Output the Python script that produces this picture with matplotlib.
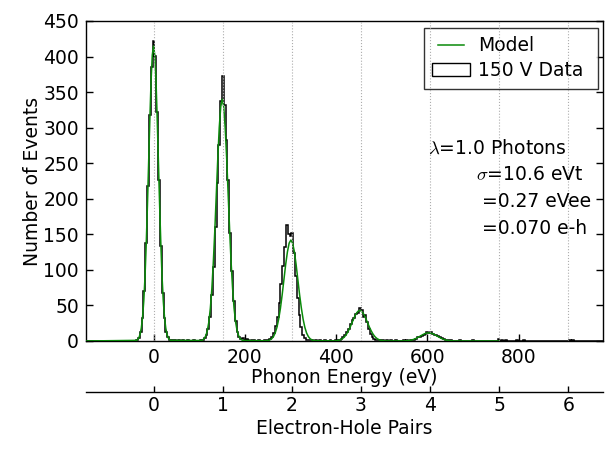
import numpy as np
import matplotlib
matplotlib.use("Agg")
import matplotlib.pyplot as plt
from matplotlib.lines import Line2D
from matplotlib.patches import Patch

plt.rcParams["font.family"] = ["DejaVu Sans"]
plt.rcParams["mathtext.fontset"] = "cm"

# ---- axes ranges and ticks ----
EV_PER_PAIR = 151.5
x_range = (-148, 985)
y_range = (0, 450)
energy_ticks = [0, 200, 400, 600, 800]
pair_ticks = [0, 1, 2, 3, 4, 5, 6]
count_ticks = list(range(0, 451, 50))

# ---- measured spectrum (4 eV bins) ----
bin_width = 4
bin_low, bin_high = -150, 986

# first bin centre of each populated stretch, followed by its counts
peak_starts = [-40, 100, 244, 400, 556]
peak0_counts = [0, 1, 4, 12, 32, 70, 138, 218, 318, 386, 422, 401, 322,
                226, 134, 68, 33, 12, 6, 2, 1, 2, 1, 0, 1, 0]
peak1_counts = [0, 1, 2, 4, 8, 17, 34, 64, 104, 160, 222, 276, 338, 372,
                332, 282, 226, 152, 98, 56, 28, 12, 5, 3, 4, 1, 3, 1, 0, 1]
peak2_counts = [1, 1, 2, 3, 6, 11, 21, 34, 54, 80, 106, 132, 163, 150,
                147, 152, 124, 92, 60, 36, 20, 9, 4, 2, 1, 2, 1, 0, 1]
peak3_counts = [1, 1, 2, 3, 5, 8, 12, 17, 24, 29, 33, 38, 40, 46, 43, 34,
                36, 27, 17, 10, 6, 3, 2, 1, 2, 1, 2, 0, 1]
peak4_counts = [1, 0, 1, 2, 2, 3, 5, 5, 7, 9, 10, 12, 11, 12, 10, 9, 8,
                7, 5, 4, 3, 2, 2, 1, 1]
peak_counts = [peak0_counts, peak1_counts, peak2_counts, peak3_counts,
               peak4_counts]

# isolated events between the peaks
stray_ev = [64, 76, 88, 220, 232, 364, 376, 388, 520, 532, 548, 672, 700,
            756, 764, 772, 796, 812, 912, 920]
stray_counts = [1, 1, 1, 1, 1, 1, 1, 1, 1, 1, 1, 2, 2, 3, 2, 1, 2, 1, 2, 1]

# ---- model curve (Poisson-smeared peaks) ----
model0_ev = [-37.5, -34.8, -32.1, -29.4, -26.8, -24.1, -21.4, -18.7, -16.1,
             -13.4, -10.7, -8.0, -5.4, -2.7, 0.0, 2.7, 5.4, 8.0, 10.7, 13.4,
             16.1, 18.7, 21.4, 24.1, 26.8, 29.4, 32.1, 34.8, 37.5]
model0_n = [0.9, 2.1, 4.6, 9.5, 18.2, 33.0, 56.1, 89.8, 134.8, 190.0, 251.7,
            313.2, 366.2, 402.2, 415.0, 402.2, 366.2, 313.2, 251.7, 190.0,
            134.8, 89.8, 56.1, 33.0, 18.2, 9.5, 4.6, 2.1, 0.9]
model1_ev = [105.0, 108.3, 111.5, 114.8, 118.0, 121.3, 124.5, 127.8, 131.0,
             134.3, 137.5, 140.8, 144.0, 147.3, 150.5, 153.8, 157.0, 160.3,
             163.5, 166.8, 170.0, 173.3, 176.5, 179.8, 183.0, 186.3, 189.5,
             192.8, 196.0]
model1_n = [0.7, 1.7, 3.8, 7.8, 14.9, 27.1, 46.0, 73.5, 110.4, 155.7, 206.2,
            256.6, 300.1, 329.5, 340.0, 329.5, 300.1, 256.6, 206.2, 155.7,
            110.4, 73.5, 46.0, 27.1, 14.9, 7.8, 3.8, 1.7, 0.7]
model2_ev = [247.5, 251.3, 255.1, 258.9, 262.8, 266.6, 270.4, 274.2, 278.1,
             281.9, 285.7, 289.5, 293.4, 297.2, 301.0, 304.8, 308.7, 312.5,
             316.3, 320.1, 324.0, 327.8, 331.6, 335.4, 339.3, 343.1, 346.9,
             350.7, 354.6]
model2_n = [0.3, 0.7, 1.6, 3.2, 6.2, 11.3, 19.2, 30.7, 46.1, 65.0, 86.1,
            107.2, 125.3, 137.6, 142.0, 137.6, 125.3, 107.2, 86.1, 65.0,
            46.1, 30.7, 19.2, 11.3, 6.2, 3.2, 1.6, 0.7, 0.3]
model3_ev = [393.2, 397.4, 401.6, 405.8, 410.0, 414.2, 418.4, 422.6, 426.8,
             431.0, 435.2, 439.4, 443.6, 447.8, 452.0, 456.2, 460.4, 464.6,
             468.8, 473.0, 477.2, 481.4, 485.6, 489.8, 494.0, 498.2, 502.4,
             506.6, 510.8]
model3_n = [0.1, 0.2, 0.5, 1.0, 1.9, 3.4, 5.8, 9.3, 14.0, 19.7, 26.1, 32.5,
            37.9, 41.7, 43.0, 41.7, 37.9, 32.5, 26.1, 19.7, 14.0, 9.3, 5.8,
            3.4, 1.9, 1.0, 0.5, 0.2, 0.1]
model4_ev = [539.0, 543.5, 548.1, 552.7, 557.3, 561.8, 566.4, 571.0, 575.6,
             580.1, 584.7, 589.3, 593.9, 598.4, 603.0, 607.6, 612.2, 616.7,
             621.3, 625.9, 630.5, 635.0, 639.6, 644.2, 648.8, 653.3, 657.9,
             662.5, 667.1]
model4_n = [0.03, 0.06, 0.13, 0.26, 0.5, 0.92, 1.56, 2.49, 3.73, 5.26, 6.97,
            8.68, 10.15, 11.15, 11.5, 11.15, 10.15, 8.68, 6.97, 5.26, 3.73,
            2.49, 1.56, 0.92, 0.5, 0.26, 0.13, 0.06, 0.03]
model_ends = [-150.0, 757.0]

# ---- assemble histogram ----
edges = np.arange(bin_low, bin_high + bin_width / 2, bin_width)
centres = edges[:-1] + bin_width / 2
counts = np.zeros(len(centres))
for start, vals in zip(peak_starts, peak_counts):
    i0 = int(round((start - centres[0]) / bin_width))
    counts[i0:i0 + len(vals)] = vals
for e, n in zip(stray_ev, stray_counts):
    counts[int(round((e - centres[0]) / bin_width))] = n

model_ev = ([model_ends[0]] + model0_ev + model1_ev + model2_ev + model3_ev
            + model4_ev + [model_ends[1]])
model_n = [0.0] + model0_n + model1_n + model2_n + model3_n + model4_n + [0.0]

# ---- figure ----
W, H = 609, 449
fig = plt.figure(figsize=(W / 100, H / 100), dpi=100)
ax = fig.add_axes([86 / W, 1 - 341 / H, (603 - 86) / W, (341 - 21) / H])

fs = 13.5
green = "#0a8a0a"
ax.hist(centres, bins=edges, weights=counts, histtype="step", color="black",
        linewidth=1.1, zorder=2)
ax.plot(model_ev, model_n, color=green, linewidth=1.1, zorder=3)

ax.set_xlim(*x_range)
ax.set_ylim(*y_range)
ax.set_xticks(energy_ticks)
ax.set_yticks(count_ticks)
ax.tick_params(direction="in", top=True, right=True, length=5, width=1,
               labelsize=fs, pad=5)
ax.set_xlabel("Phonon Energy (eV)", fontsize=fs, labelpad=1)
ax.set_ylabel("Number of Events", fontsize=fs, labelpad=1)
for s in ax.spines.values():
    s.set_linewidth(1.0)

# second energy scale in electron-hole pairs
ax2 = ax.twiny()
ax2.set_xlim(x_range[0] / EV_PER_PAIR, x_range[1] / EV_PER_PAIR)
ax2.set_xticks(pair_ticks)
ax2.xaxis.set_ticks_position("bottom")
ax2.xaxis.set_label_position("bottom")
ax2.spines["bottom"].set_position(("outward", 36.7))
for s in ["top", "left", "right"]:
    ax2.spines[s].set_visible(False)
ax2.spines["bottom"].set_linewidth(1.0)
ax2.tick_params(axis="x", direction="in", length=4, width=1, labelsize=fs,
                pad=3)
ax2.set_xlabel("Electron-Hole Pairs", fontsize=fs, labelpad=3)
ax2.grid(True, axis="x", linestyle=":", color="0.68", linewidth=0.8)

handles = [Line2D([], [], color=green, linewidth=1.1),
           Patch(facecolor="white", edgecolor="black", linewidth=1.0)]
leg = ax.legend(handles, ["Model", "150 V Data "], loc="upper right",
                bbox_to_anchor=(598 / W, 1 - 28 / H),
                bbox_transform=fig.transFigure, borderaxespad=0,
                fontsize=fs, numpoints=2, fancybox=False, frameon=True,
                borderpad=0.45, labelspacing=0.3, handlelength=2.0,
                handletextpad=0.45)
leg.get_frame().set_edgecolor("black")
leg.get_frame().set_linewidth(1.0)

notes = [("$\\lambda$=1.0 Photons", 428, 148),
         ("$\\sigma$=10.6 eVt", 476, 175),
         ("=0.27 eVee", 482, 201),
         ("=0.070 e-h", 482, 228)]
for txt, px, py in notes:
    fig.text(px / W, 1 - py / H, txt, fontsize=fs, ha="left", va="center")

fig.savefig("out.png", dpi=100)
